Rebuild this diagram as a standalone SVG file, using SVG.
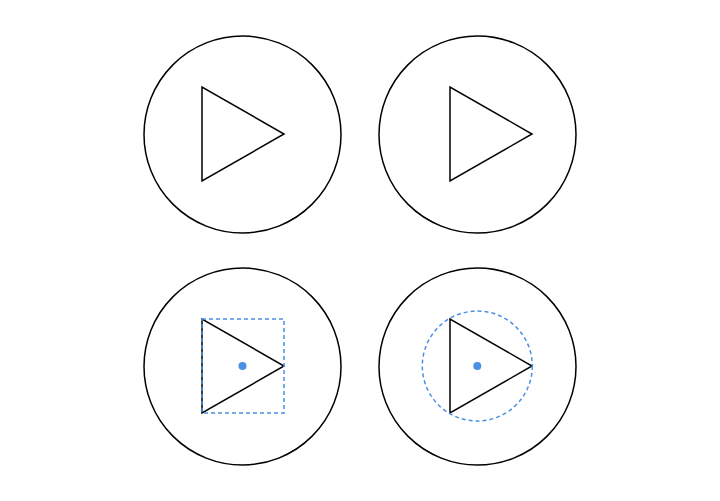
<svg xmlns="http://www.w3.org/2000/svg" width="720" height="501" viewBox="0 0 720 501">
<style>
.c{fill:none;stroke:#000;stroke-width:1.5}
.t{fill:none;stroke:#000;stroke-width:1.5;stroke-linejoin:miter}
.d{fill:none;stroke:#4a90e2;stroke-width:1.5;stroke-dasharray:4 3}
.p{fill:#4a90e2}
</style>
<rect width="720" height="501" fill="#fff"/>
<g id="top-left">
<circle class="c" cx="242.5" cy="134.5" r="98.5"/>
<polygon class="t" points="202,87 202,181 284,134"/>
</g>
<g id="top-right">
<circle class="c" cx="477.5" cy="134.5" r="98.5"/>
<polygon class="t" points="450,87 450,181 532,134"/>
</g>
<g id="bottom-left">
<circle class="c" cx="242.5" cy="366.5" r="98.5"/>
<polygon class="t" points="202,319 202,413 284,366"/>
<rect class="d" x="202" y="319" width="82" height="94"/>
<circle class="p" cx="242.5" cy="366" r="4"/>
</g>
<g id="bottom-right">
<circle class="c" cx="477.5" cy="366.5" r="98.5"/>
<polygon class="t" points="450,319 450,413 532,366"/>
<circle class="d" cx="477.3" cy="366" r="55"/>
<circle class="p" cx="477.3" cy="366" r="4"/>
</g>
<g id="connectors"/>
</svg>
